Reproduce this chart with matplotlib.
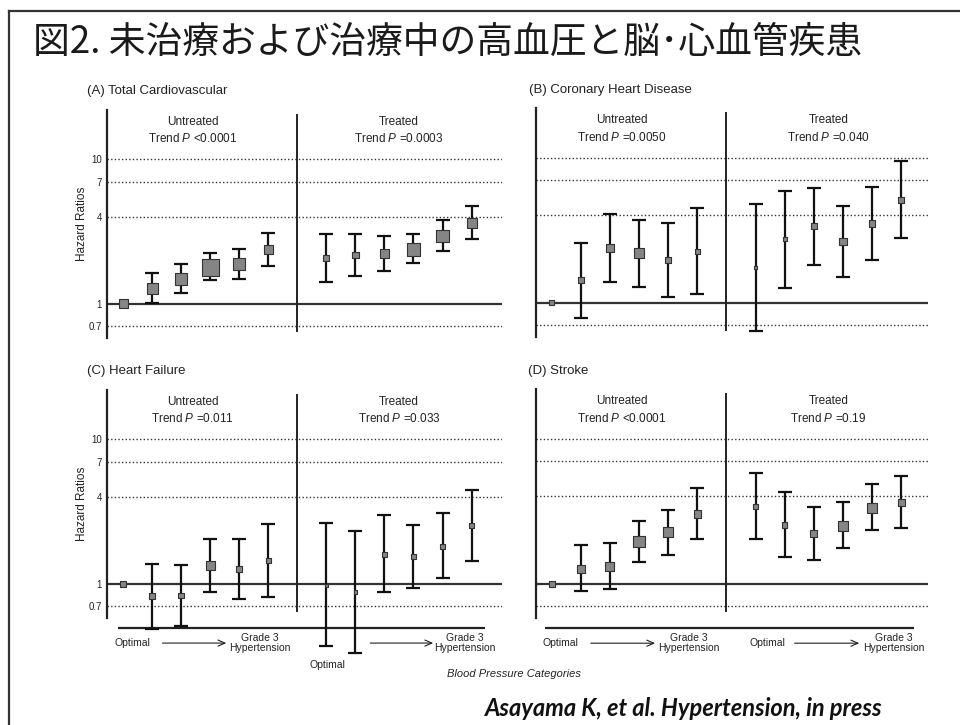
import matplotlib
matplotlib.use("Agg")
import numpy as np
import matplotlib.pyplot as plt
from matplotlib import font_manager
from matplotlib.lines import Line2D
from matplotlib.transforms import blended_transform_factory

plt.rcParams['font.family'] = ['Liberation Sans', 'DejaVu Sans']
plt.rcParams['mathtext.fontset'] = 'custom'
plt.rcParams['mathtext.rm'] = 'Liberation Sans'
plt.rcParams['mathtext.it'] = 'Liberation Sans:italic'

_names = {f.name for f in font_manager.fontManager.ttflist}
NARROW = 'Liberation Sans Narrow' if 'Liberation Sans Narrow' in _names else 'Liberation Sans'
CITE_FONT = 'Lato' if 'Lato' in _names else 'Liberation Sans'

# ---------------------------------------------------------------- data
title = "図2. 未治療および治療中の高血圧と脳･心血管疾患"
panel_titles = ["(A) Total Cardiovascular", "(B) Coronary Heart Disease",
                "(C) Heart Failure", "(D) Stroke"]
group_names = ["Untreated", "Treated"]
trend_p = [["<0.0001", "=0.0003"],
           ["=0.0050", "=0.040"],
           ["=0.011", "=0.033"],
           ["<0.0001", "=0.19"]]
yticks = [0.7, 1, 4, 7, 10]
ytick_labels = ["0.7", "1", "4", "7", "10"]
nan = np.nan

# hazard ratios with 95% CI: six BP categories untreated, then six treated
hr_a = [1.00, 1.28, 1.49, 1.79, 1.88, 2.38, 2.07, 2.18, 2.24, 2.38, 2.96, 3.64]
lo_a = [nan, 1.01, 1.19, 1.46, 1.48, 1.82, 1.41, 1.55, 1.70, 1.93, 2.33, 2.81]
hi_a = [nan, 1.64, 1.88, 2.25, 2.39, 3.12, 3.04, 3.07, 2.96, 3.04, 3.80, 4.76]

hr_b = [1.00, 1.44, 2.38, 2.20, 1.98, 2.26, 1.75, 2.76, 3.36, 2.64, 3.51, 5.14]
lo_b = [nan, 0.79, 1.40, 1.29, 1.10, 1.15, 0.64, 1.27, 1.82, 1.50, 1.98, 2.79]
hi_b = [nan, 2.60, 4.10, 3.74, 3.55, 4.48, 4.82, 5.94, 6.20, 4.67, 6.30, 9.47]

hr_c = [1.00, 0.82, 0.83, 1.34, 1.26, 1.45, 0.98, 0.88, 1.61, 1.55, 1.82, 2.53]
lo_c = [nan, 0.49, 0.51, 0.88, 0.79, 0.81, 0.37, 0.33, 0.875, 0.93, 1.10, 1.43]
hi_c = [nan, 1.38, 1.35, 2.05, 2.04, 2.61, 2.64, 2.31, 2.98, 2.57, 3.10, 4.50]

hr_d = [1.00, 1.27, 1.32, 1.96, 2.26, 3.02, 3.43, 2.54, 2.22, 2.51, 3.34, 3.64]
lo_d = [nan, 0.885, 0.92, 1.41, 1.59, 2.03, 2.05, 1.53, 1.45, 1.77, 2.34, 2.41]
hi_d = [nan, 1.86, 1.91, 2.72, 3.22, 4.55, 5.78, 4.27, 3.40, 3.64, 4.85, 5.54]

# relative weight of each estimate (box side length)
box_a = [9, 11, 12.3, 16.7, 11.7, 9.3, 6, 6.7, 9.3, 12.3, 12.3, 10]
box_b = [4.7, 5.7, 7.7, 9.3, 6.3, 5, 3.3, 4, 6, 7.3, 6.7, 6]
box_c = [6.3, 6, 5.7, 9, 6, 5, 3, 3.3, 5, 5.7, 5.3, 5]
box_d = [6, 7.7, 9, 11.7, 10, 7.3, 5, 5.3, 6.7, 10, 9.7, 6.7]

# ---------------------------------------------------------------- layout
W, H = 960, 725
fig = plt.figure(figsize=(W / 100, H / 100), dpi=100)
INK = '#222222'


def rect(l, t, r, b):
    return [l / W, 1 - b / H, (r - l) / W, (b - t) / H]


def fpos(x, y):
    return x / W, 1 - y / H


panels = [
    (hr_a, lo_a, hi_a, box_a, rect(107, 110, 502, 338), (-0.56, 13.05), True, False),
    (hr_b, lo_b, hi_b, box_b, rect(536, 108, 928, 337), (-0.54, 12.92), False, False),
    (hr_c, lo_c, hi_c, box_c, rect(107, 390, 502, 618), (-0.56, 13.05), True, True),
    (hr_d, lo_d, hi_d, box_d, rect(536, 389, 928, 618), (-0.54, 12.92), False, True),
]

xpos = np.r_[np.arange(6), np.arange(6) + 7]

for k, (hr, lo, hi, box, r, xlim, left_labels, bottom_labels) in enumerate(panels):
    ax = fig.add_axes(r)
    hr = np.asarray(hr); lo = np.asarray(lo); hi = np.asarray(hi)
    ax.set_yscale('log')
    ax.set_ylim(0.581, 22.0)
    ax.set_xlim(*xlim)
    ax.patch.set_alpha(0)
    for s in ('top', 'right', 'bottom'):
        ax.spines[s].set_visible(False)
    ax.spines['left'].set_linewidth(1.6)
    ax.spines['left'].set_color(INK)
    ax.set_xticks([])
    ax.yaxis.set_minor_locator(matplotlib.ticker.NullLocator())
    ax.set_yticks(yticks)
    if left_labels:
        ax.set_yticklabels(ytick_labels, fontsize=7, color=INK)
        ax.text(-0.064, 0.5, "Hazard Ratios", rotation=90, ha='center', va='center',
                fontsize=8.5, color=INK, transform=ax.transAxes)
    else:
        ax.set_yticklabels([])
    ax.tick_params(axis='y', length=0, pad=3.5)

    # reference lines
    for v in (0.7, 4, 7, 10):
        ax.axhline(v, ls=(0, (1, 1.6)), lw=1.0, color='#333333', zorder=1)
    ax.axhline(1, lw=1.6, color='#333333', zorder=1)
    ax.axvline(6, ymin=0.03, ymax=0.978, lw=1.4, color=INK, zorder=1)

    tr = blended_transform_factory(ax.transData, ax.transAxes)

    # group headers
    for g, xc in enumerate((2.4, 9.5)):
        ax.text(xc, 0.947, group_names[g], ha='center', va='center', fontsize=8.5,
                color=INK, transform=tr)
        ax.text(xc, 0.873, r"Trend $P$ " + trend_p[k][g], ha='center', va='center',
                fontsize=8.5, color=INK, transform=tr)

    # confidence intervals
    ok = np.isfinite(lo)
    cont = ax.errorbar(xpos[ok], hr[ok], yerr=[hr[ok] - lo[ok], hi[ok] - hr[ok]],
                       fmt='none', ecolor='#111111', elinewidth=1.6, capsize=4.7,
                       capthick=1.6, zorder=3)
    for art in cont.lines[1] + cont.lines[2]:
        art.set_clip_on(False)

    # point estimates
    ax.scatter(xpos, hr, marker='s', s=(np.asarray(box) * 0.72) ** 2,
               facecolor='#858585', edgecolor='#333333', linewidths=0.8,
               zorder=4, clip_on=False)

    if bottom_labels:
        x0, x1 = (-0.18, 12.46) if k == 2 else (-0.23, 12.45)
        ax.plot([x0, x1], [-0.043, -0.043], color=INK, lw=1.6, transform=tr,
                clip_on=False, solid_capstyle='butt')
        opt_x = (0.3, 7.02) if k == 2 else (0.29, 7.39)
        opt_y = (-0.11, -0.206) if k == 2 else (-0.11, -0.11)
        arr = ((1.35, 3.55), (8.51, 10.68)) if k == 2 else ((1.34, 3.55), (8.34, 10.56))
        g3 = (4.69, 11.78) if k == 2 else (4.71, 11.74)
        for g in range(2):
            ax.text(opt_x[g], opt_y[g], "Optimal", ha='center', va='center',
                    fontsize=7.5, family=NARROW, color=INK, transform=tr)
            ax.annotate('', xy=(arr[g][1], -0.11), xytext=(arr[g][0], -0.11),
                        xycoords=tr, textcoords=tr, annotation_clip=False,
                        arrowprops=dict(arrowstyle='->,head_length=0.5,head_width=0.22',
                                        lw=0.8, color=INK, shrinkA=0, shrinkB=0))
            ax.text(g3[g], -0.11, "Grade 3\nHypertension", ha='center', va='center',
                    fontsize=7.5, family=NARROW, color=INK, linespacing=0.95,
                    transform=tr)

# panel titles
for (x, y), t in zip([(87, 91), (529, 90), (87, 371), (528, 371)], panel_titles):
    fig.text(*fpos(x, y), t, ha='left', va='center', fontsize=9.5, color=INK)

fig.text(*fpos(514, 674), "Blood Pressure Categories", ha='center', va='center',
         fontsize=8, style='italic', color=INK)
fig.text(*fpos(684, 708), "Asayama K, et al. Hypertension, in press", ha='center',
         va='center', fontsize=17, style='italic', weight='bold',
         family=[CITE_FONT, 'DejaVu Sans'], color='#111111')

fig.text(*fpos(33, 42.5), title, ha='left', va='center', fontsize=26.5,
         family=['Noto Sans CJK JP', 'DejaVu Sans'], color='#1a1a1a')

# outer frame (top and left edges)
fig.add_artist(Line2D([9 / W, 1], [1 - 11 / H, 1 - 11 / H], transform=fig.transFigure,
                      color='#333333', lw=1.6))
fig.add_artist(Line2D([9 / W, 9 / W], [1 - 11 / H, 0], transform=fig.transFigure,
                      color='#333333', lw=1.6))

fig.savefig("out.png", dpi=100)
